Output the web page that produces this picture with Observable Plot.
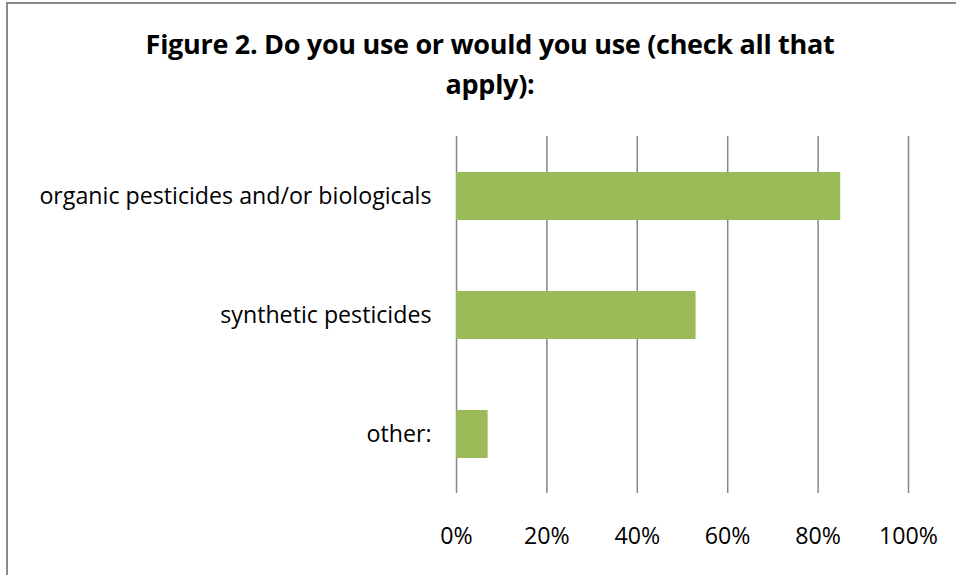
<!DOCTYPE html>
<html>
<head>
<meta charset="utf-8">
<script src="https://cdn.jsdelivr.net/npm/d3@7"></script>
<script src="https://cdn.jsdelivr.net/npm/@observablehq/plot@0.6"></script>
<style>
  html, body { margin: 0; padding: 0; background: #fff; overflow: hidden; }
  #wrap { position: relative; width: 956px; height: 575px; overflow: hidden; font-family: "Open Sans", "Noto Sans", sans-serif; }
  #frame { position: absolute; left: 6px; top: 2px; width: 1000px; height: 600px; border: 2px solid #8a8a8a; box-sizing: border-box; }
  #title { position: absolute; left: 0; top: 0; width: 980px; height: 130px; text-align: center; font-weight: bold; font-size: 27px; line-height: 40px; padding-top: 24px; box-sizing: border-box; color: #000; letter-spacing: -0.3px; }
  #chart { position: absolute; left: 0; top: 130px; }
</style>
</head>
<body>
<div id="wrap">
  <div id="frame"></div>
  <div id="title">Figure 2. Do you use or would you use (check all that<br>apply):</div>
  <div id="chart"></div>
</div>
<script>
const categories = ["organic pesticides and/or biologicals", "synthetic pesticides", "other:"];
const values = [0.85, 0.53, 0.07];
const xTicks = [0, 0.2, 0.4, 0.6, 0.8, 1.0];

const data = categories.map((c, i) => ({category: c, value: values[i]}));

const chart = Plot.plot({
  width: 956,
  height: 445,
  marginLeft: 456,
  marginRight: 48,
  marginTop: 6,
  marginBottom: 82,
  style: {fontFamily: '"Open Sans", "Noto Sans", sans-serif', fontSize: "23.2px", color: "#000", background: "transparent"},
  x: {domain: [0, 1], ticks: xTicks, tickFormat: d3.format(".0%"), label: null},
  y: {domain: categories, paddingInner: 0.6, paddingOuter: 0.3, label: null},
  marks: [
    Plot.gridX(xTicks, {stroke: "#868686", strokeOpacity: 1, strokeWidth: 1.5}),
    Plot.barX(data, {x: "value", y: "category", fill: "#9BBB59"}),
    Plot.ruleY([0], {frameAnchor: "bottom", stroke: "#868686", strokeWidth: 1.5}),
    Plot.axisX(xTicks, {tickSize: 0, tickPadding: 34, tickFormat: d3.format(".0%"), fontSize: 23.2, label: null}),
    Plot.axisY({tickSize: 0, tickPadding: 25, fontSize: 23.2, label: null})
  ]
});
document.getElementById("chart").appendChild(chart);
</script>
</body>
</html>
